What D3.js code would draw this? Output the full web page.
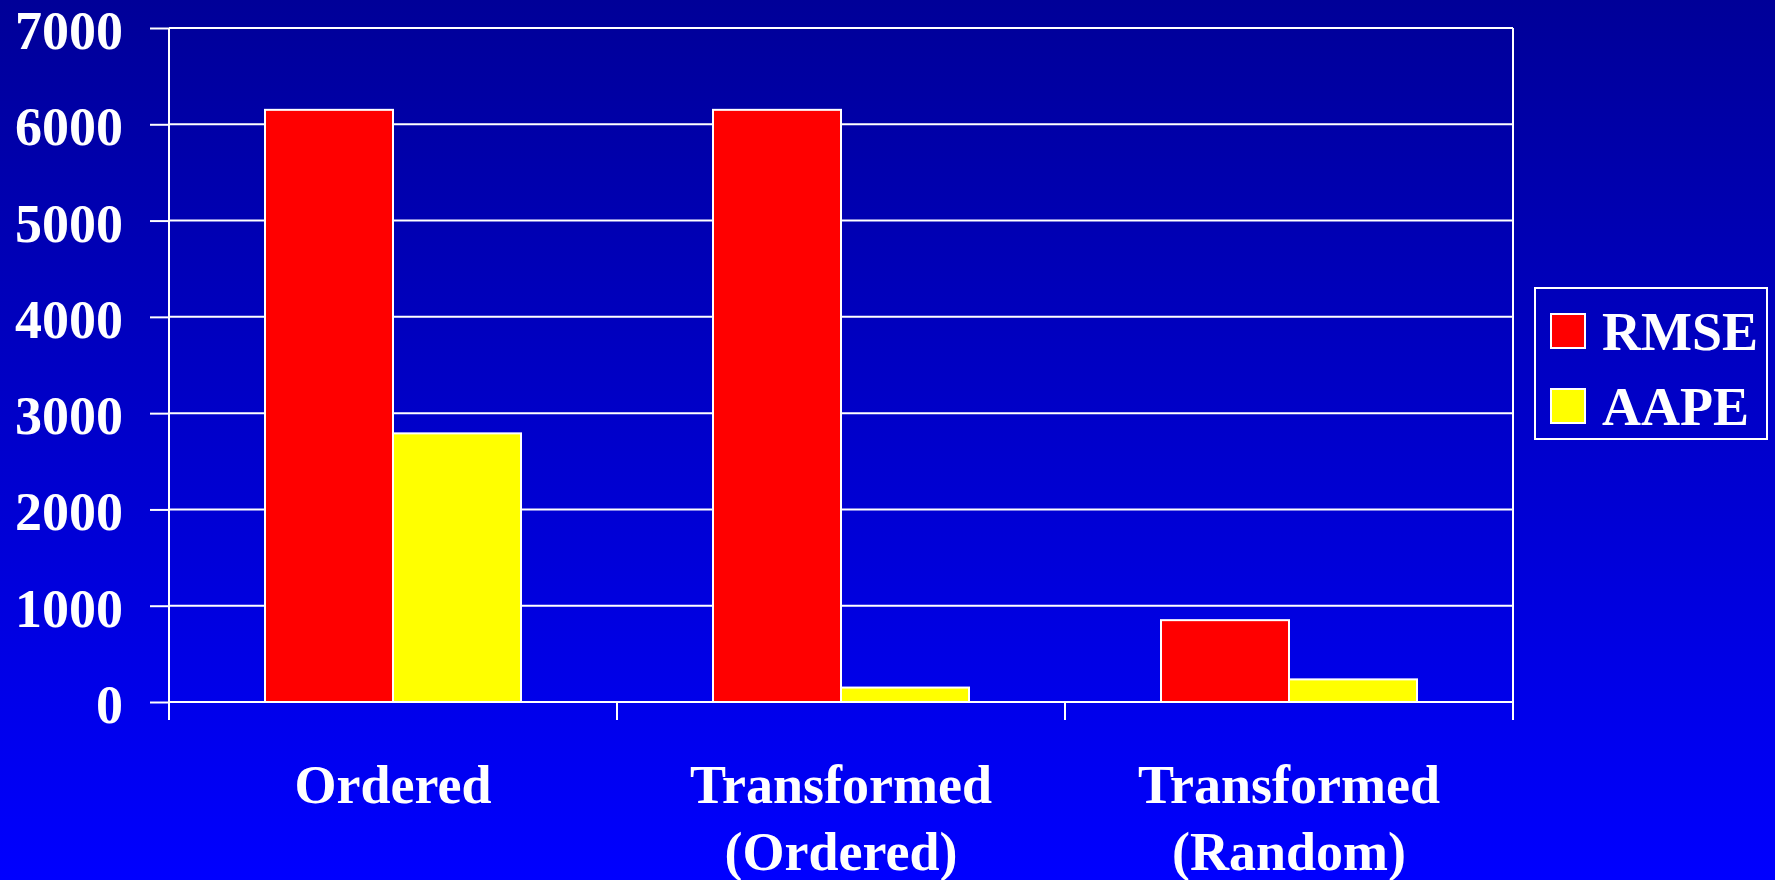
<!DOCTYPE html>
<html>
<head>
<meta charset="utf-8">
<script src="https://cdn.jsdelivr.net/npm/d3@7"></script>
<style>
html,body{margin:0;padding:0;background:#0000ff;}
svg{display:block;}
text{font-family:"Liberation Serif","Times New Roman",serif;font-weight:bold;fill:#fff;}
</style>
</head>
<body>
<script>
const categories = [["Ordered"], ["Transformed", "(Ordered)"], ["Transformed", "(Random)"]];
const seriesNames = ["RMSE", "AAPE"];
const rmse = [6150, 6150, 850];
const aape = [2790, 150, 235];
const yTicks = [0, 1000, 2000, 3000, 4000, 5000, 6000, 7000];
const colors = ["#ff0000", "#ffff00"];

(function () {
const W = 1775, H = 880;
const svg = d3.select("body").append("svg").attr("width", W).attr("height", H);

const defs = svg.append("defs");
const grad = defs.append("linearGradient").attr("id", "bg").attr("x1", 0).attr("y1", 0).attr("x2", 0).attr("y2", 1);
grad.append("stop").attr("offset", "0%").attr("stop-color", "#000098");
grad.append("stop").attr("offset", "100%").attr("stop-color", "#0000ff");
svg.append("rect").attr("width", W).attr("height", H).attr("fill", "url(#bg)");

const pLeft = 169, pRight = 1513, pTop = 28, pBottom = 702;
const y = d3.scaleLinear().domain([0, 7000]).range([pBottom, pTop]);
const x0 = d3.scaleBand().domain(d3.range(categories.length)).range([pLeft, pRight]).padding(0);
const x1 = d3.scaleBand().domain(seriesNames).range([96, x0.bandwidth() - 96]).padding(0);

// gridlines
svg.append("g").selectAll("line").data(yTicks).join("line")
  .attr("x1", pLeft).attr("x2", pRight)
  .attr("y1", d => y(d)).attr("y2", d => y(d))
  .attr("stroke", "#fff").attr("stroke-width", 2);

// y axis ticks & labels
const yAxis = d3.axisLeft(y).tickValues(yTicks).tickSize(19).tickPadding(27).tickFormat(d3.format("d"));
const gy = svg.append("g").attr("transform", `translate(${pLeft},0)`).call(yAxis);
gy.select(".domain").remove();
gy.selectAll(".tick line").attr("stroke", "#fff").attr("stroke-width", 2);
gy.selectAll(".tick text").attr("font-size", 54).attr("fill", "#fff")
  .attr("font-family", "'Liberation Serif','Times New Roman',serif").attr("font-weight", "bold")
  .attr("dy", "0.38em");

// bars
const data = categories.map((c, i) => ({i, vals: [rmse[i], aape[i]]}));
const groups = svg.append("g").selectAll("g").data(data).join("g")
  .attr("transform", d => `translate(${x0(d.i)},0)`);
groups.selectAll("rect").data(d => d.vals.map((v, k) => ({k, v}))).join("rect")
  .attr("x", d => x1(seriesNames[d.k]))
  .attr("width", x1.bandwidth())
  .attr("y", d => y(d.v))
  .attr("height", d => y(0) - y(d.v))
  .attr("fill", d => colors[d.k])
  .attr("stroke", "#fff").attr("stroke-width", 2);

// frame verticals and category ticks
const bounds = d3.range(categories.length + 1).map(i => pLeft + i * x0.bandwidth());
svg.append("g").selectAll("line").data(bounds).join("line")
  .attr("x1", d => d).attr("x2", d => d)
  .attr("y1", (d, i) => (i === 0 || i === bounds.length - 1) ? pTop : pBottom)
  .attr("y2", pBottom + 18)
  .attr("stroke", "#fff").attr("stroke-width", 2);

// category labels
const lab = svg.append("g").selectAll("text").data(categories).join("text")
  .attr("text-anchor", "middle").attr("font-size", 54)
  .attr("x", (d, i) => x0(i) + x0.bandwidth() / 2)
  .attr("y", 803);
lab.selectAll("tspan").data(d => d).join("tspan")
  .attr("x", function() { return d3.select(this.parentNode).attr("x"); })
  .attr("dy", (d, i) => i === 0 ? 0 : 67)
  .text(d => d);

// legend
const lg = svg.append("g");
lg.append("rect").attr("x", 1535).attr("y", 288).attr("width", 232).attr("height", 151)
  .attr("fill", "none").attr("stroke", "#fff").attr("stroke-width", 2);
const items = lg.selectAll("g").data(seriesNames).join("g")
  .attr("transform", (d, i) => `translate(0,${i * 75})`);
items.append("rect").attr("x", 1551).attr("y", 314).attr("width", 34).attr("height", 34)
  .attr("fill", (d, i) => colors[i]).attr("stroke", "#fff").attr("stroke-width", 2);
items.append("text").attr("x", 1602).attr("y", 350).attr("font-size", 54).text(d => d);
})();
</script>
</body>
</html>
